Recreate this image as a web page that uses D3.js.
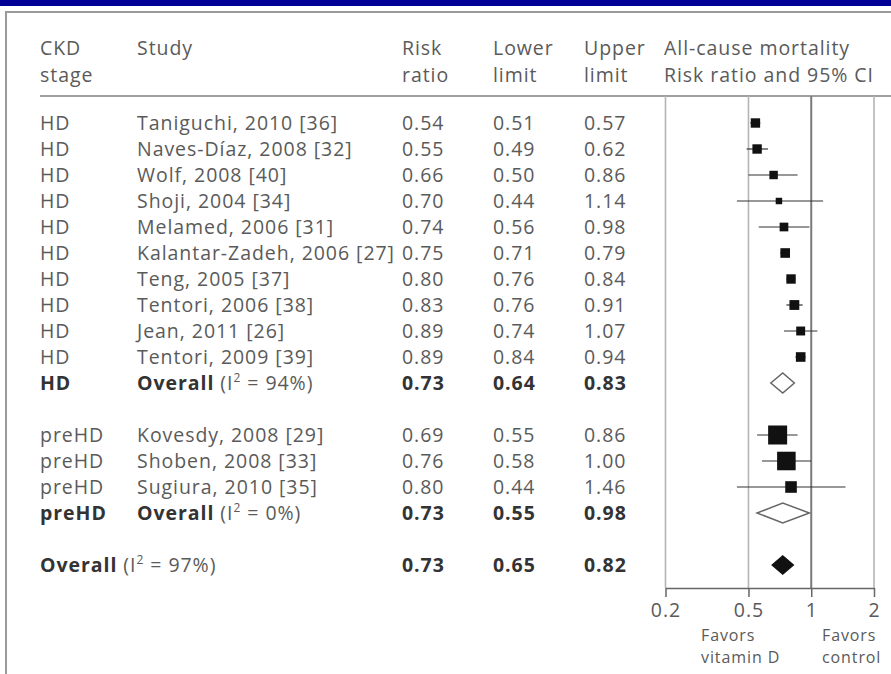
<!DOCTYPE html>
<html>
<head>
<meta charset="utf-8">
<script src="https://cdn.jsdelivr.net/npm/d3@7/dist/d3.min.js"></script>
<style>
  html, body { margin: 0; padding: 0; background: #fff; }
  svg text { font-family: "Open Sans", "Noto Sans", sans-serif; font-size: 19.5px; letter-spacing: 0.95px; fill: #5a5a5a; }
  svg text.bold { font-weight: 700; fill: #333; }
  svg text.favor { font-size: 16px; letter-spacing: 0.9px; }
</style>
</head>
<body>
<svg id="chart" width="891" height="674"></svg>
<script>
// Individual studies
const stages = ["HD","HD","HD","HD","HD","HD","HD","HD","HD","HD","preHD","preHD","preHD"];
const studies = [
  "Taniguchi, 2010 [36]", "Naves-Díaz, 2008 [32]", "Wolf, 2008 [40]", "Shoji, 2004 [34]",
  "Melamed, 2006 [31]", "Kalantar-Zadeh, 2006 [27]", "Teng, 2005 [37]", "Tentori, 2006 [38]",
  "Jean, 2011 [26]", "Tentori, 2009 [39]",
  "Kovesdy, 2008 [29]", "Shoben, 2008 [33]", "Sugiura, 2010 [35]"
];
const riskRatio = [0.54, 0.55, 0.66, 0.70, 0.74, 0.75, 0.80, 0.83, 0.89, 0.89, 0.69, 0.76, 0.80];
const lowerLimit = [0.51, 0.49, 0.50, 0.44, 0.56, 0.71, 0.76, 0.76, 0.74, 0.84, 0.55, 0.58, 0.44];
const upperLimit = [0.57, 0.62, 0.86, 1.14, 0.98, 0.79, 0.84, 0.91, 1.07, 0.94, 0.86, 1.00, 1.46];
// Relative weight (%) within each subgroup
const weights = [10.5, 10.5, 8.5, 5.0, 9.0, 11.0, 10.5, 11.5, 9.5, 11.0, 43, 41, 16];

// Pooled estimates
const pooledStages = ["HD", "preHD", ""];
const pooledI2 = ["94%", "0%", "97%"];
const pooledRR = [0.73, 0.73, 0.73];
const pooledLower = [0.64, 0.55, 0.65];
const pooledUpper = [0.83, 0.98, 0.82];

// Axis
const tickValues = [0.2, 0.5, 1, 2];
const tickLabels = ["0.2", "0.5", "1", "2"];
const favorLabels = [["Favors", "vitamin D"], ["Favors", "control"]];

// Header text
const headers = [
  { col: "stage", lines: ["CKD", "stage"] },
  { col: "study", lines: ["Study"] },
  { col: "rr", lines: ["Risk", "ratio"] },
  { col: "lo", lines: ["Lower", "limit"] },
  { col: "hi", lines: ["Upper", "limit"] },
  { col: "plot", lines: ["All-cause mortality", "Risk ratio and 95% CI"] }
];

const svg = d3.select("#chart");
const W = 891, H = 674;

const colX = { stage: 40, study: 137, rr: 402, lo: 493, hi: 584, plot: 664 };
const headerLineY = 96, axisY = 588;

const x = d3.scaleLog().domain([0.2, 2]).range([665.5, 874]);
const y = d3.scaleLinear().domain([0, 17]).range([123, 565]);
const side = d3.scaleSqrt().domain([0, 43]).range([0, 19]);
const fmt = d3.format(".2f");

// Row layout: HD studies, HD pooled, gap, preHD studies, preHD pooled, gap, overall
const studyRow = stages.map((s, i) => s === "HD" ? i : i + 2);
const pooledRow = [10, 15, 17];

// Page band and frame
svg.append("rect").attr("x", 0).attr("y", 0).attr("width", W).attr("height", 6).attr("fill", "#000096");
svg.append("path").attr("d", `M6,${H} V12 H${W}`).attr("fill", "none").attr("stroke", "#9a9a9a").attr("stroke-width", 2);

// Header
headers.forEach(h => {
  const t = svg.append("text").attr("x", colX[h.col]).attr("y", 55);
  h.lines.forEach((s, k) => {
    t.append("tspan").attr("x", colX[h.col]).attr("dy", k === 0 ? 0 : 27).text(s);
  });
});
svg.append("line").attr("x1", 40).attr("x2", W).attr("y1", headerLineY).attr("y2", headerLineY)
  .attr("stroke", "#808080").attr("stroke-width", 1.6);

// Reference lines
const plot = svg.append("g");
plot.selectAll("line.ref").data(tickValues).join("line")
  .attr("class", "ref")
  .attr("x1", d => x(d)).attr("x2", d => x(d))
  .attr("y1", headerLineY).attr("y2", axisY)
  .attr("stroke", d => d === 1 ? "#7a7a7a" : "#b4b4b4")
  .attr("stroke-width", d => d === 1 ? 2 : 1.6);

// Axis
const axis = svg.append("g").attr("transform", `translate(0,${axisY})`)
  .call(d3.axisBottom(x).tickValues(tickValues).tickFormat((d, i) => tickLabels[i]).tickSize(9).tickSizeOuter(0).tickPadding(6));
axis.select(".domain").attr("stroke", "#666").attr("stroke-width", 1.5);
axis.selectAll(".tick line").attr("stroke", "#666").attr("stroke-width", 1.5);
axis.selectAll(".tick text").attr("font-size", null).attr("font-family", null).attr("fill", null);

// Favors labels below the axis
[701, 822].forEach((px, j) => {
  const t = svg.append("text").attr("class", "favor").attr("x", px).attr("y", 641);
  favorLabels[j].forEach((s, k) => {
    t.append("tspan").attr("x", px).attr("dy", k === 0 ? 0 : 22).text(s);
  });
});

// Study rows: text columns
const rows = svg.append("g");
studies.forEach((s, i) => {
  const yy = y(studyRow[i]) + 7;
  rows.append("text").attr("x", colX.stage).attr("y", yy).text(stages[i]);
  rows.append("text").attr("x", colX.study).attr("y", yy).text(s);
  rows.append("text").attr("x", colX.rr).attr("y", yy).text(fmt(riskRatio[i]));
  rows.append("text").attr("x", colX.lo).attr("y", yy).text(fmt(lowerLimit[i]));
  rows.append("text").attr("x", colX.hi).attr("y", yy).text(fmt(upperLimit[i]));
});

// Study rows: confidence intervals and weighted squares
plot.selectAll("line.ci").data(studies).join("line")
  .attr("class", "ci")
  .attr("x1", (d, i) => x(lowerLimit[i])).attr("x2", (d, i) => x(upperLimit[i]))
  .attr("y1", (d, i) => y(studyRow[i])).attr("y2", (d, i) => y(studyRow[i]))
  .attr("stroke", "#333").attr("stroke-width", 1.2);
plot.selectAll("rect.pt").data(studies).join("rect")
  .attr("class", "pt")
  .attr("x", (d, i) => x(riskRatio[i]) - side(weights[i]) / 2)
  .attr("y", (d, i) => y(studyRow[i]) - side(weights[i]) / 2)
  .attr("width", (d, i) => side(weights[i]))
  .attr("height", (d, i) => side(weights[i]))
  .attr("fill", "#111");

// Pooled rows
pooledRR.forEach((v, i) => {
  const yc = y(pooledRow[i]);
  const yy = yc + 7;
  let xLabel = colX.study;
  if (pooledStages[i]) {
    rows.append("text").attr("class", "bold").attr("x", colX.stage).attr("y", yy).text(pooledStages[i]);
  } else {
    xLabel = colX.stage;
  }
  const t = rows.append("text").attr("x", xLabel).attr("y", yy);
  t.append("tspan").attr("font-weight", 700).style("fill", "#333").text("Overall");
  t.append("tspan").text(" (I");
  t.append("tspan").attr("dy", -8).attr("font-size", 12).text("2");
  t.append("tspan").attr("dy", 8).text(" = " + pooledI2[i] + ")");
  rows.append("text").attr("class", "bold").attr("x", colX.rr).attr("y", yy).text(fmt(v));
  rows.append("text").attr("class", "bold").attr("x", colX.lo).attr("y", yy).text(fmt(pooledLower[i]));
  rows.append("text").attr("class", "bold").attr("x", colX.hi).attr("y", yy).text(fmt(pooledUpper[i]));

  const filled = i === 2;
  const h = filled ? 9 : 10;
  const pts = [[x(pooledLower[i]), yc], [x(v), yc - h], [x(pooledUpper[i]), yc], [x(v), yc + h]];
  plot.append("path")
    .attr("d", "M" + pts.map(p => p.join(",")).join("L") + "Z")
    .attr("fill", filled ? "#111" : "#fff")
    .attr("stroke", filled ? "#111" : "#666")
    .attr("stroke-width", 1.5);
});
</script>
</body>
</html>
